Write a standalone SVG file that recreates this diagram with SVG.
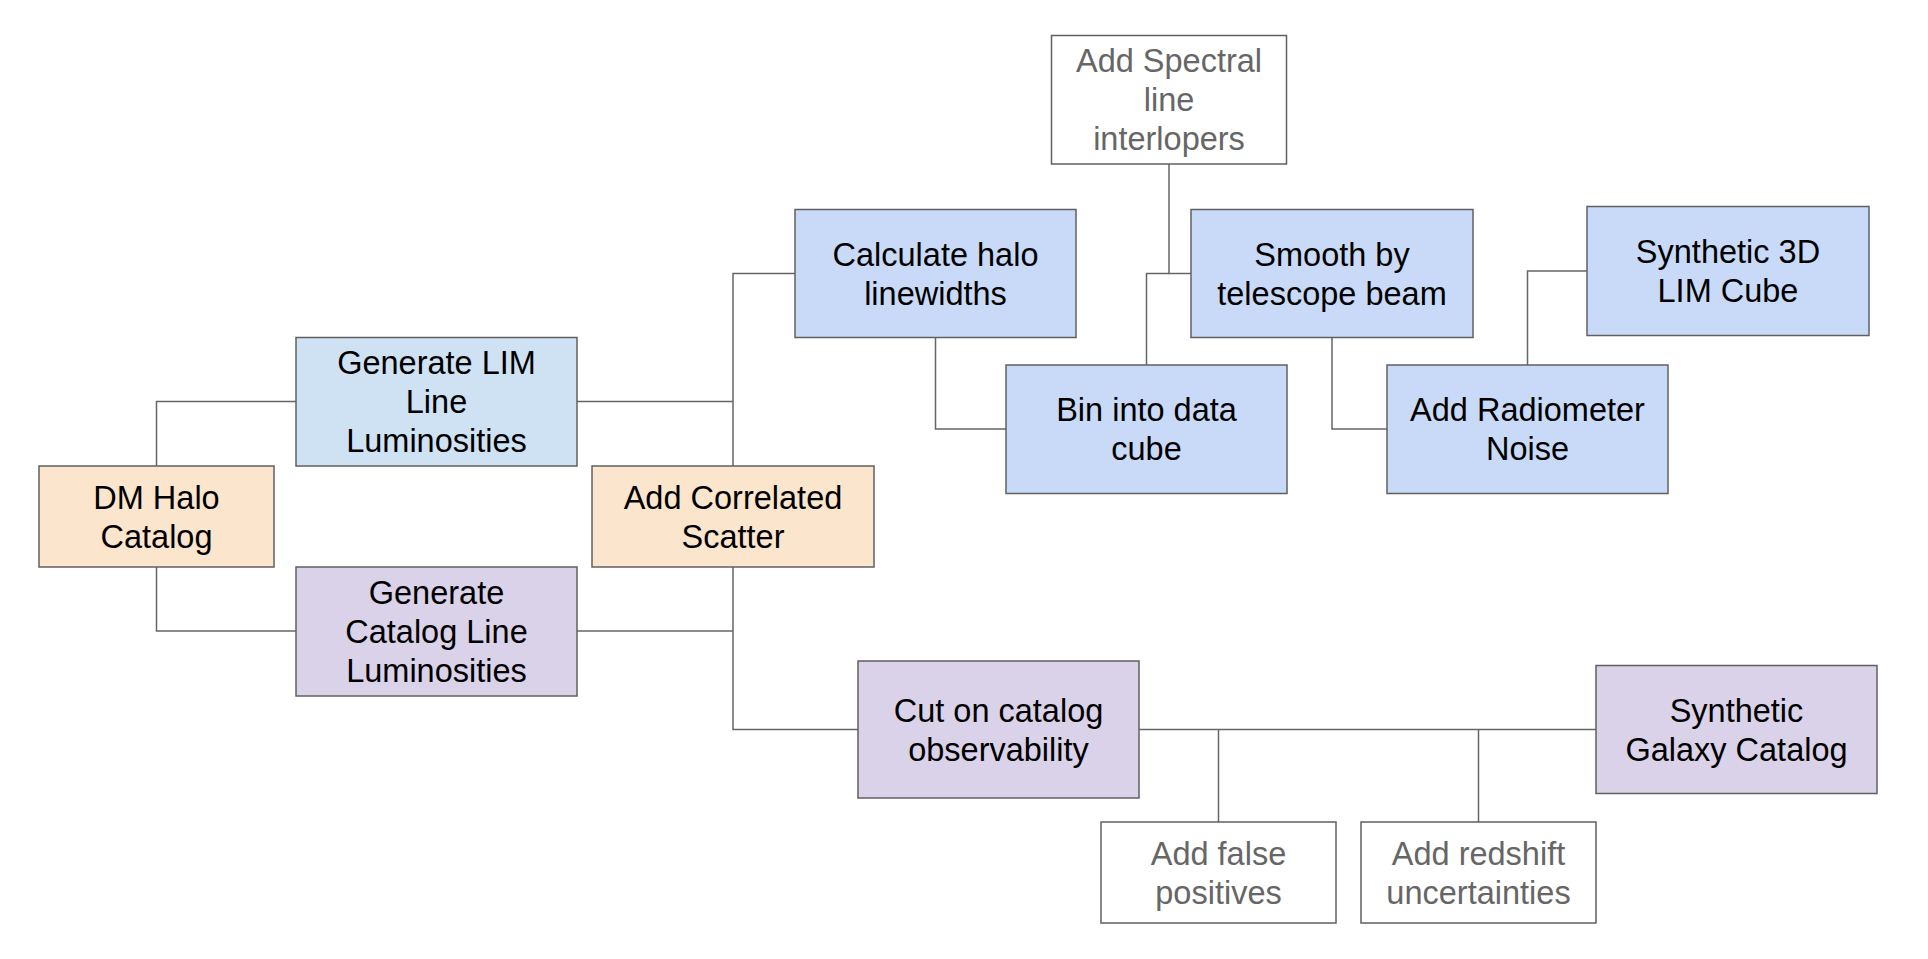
<svg xmlns="http://www.w3.org/2000/svg" width="1928" height="959" viewBox="0 0 1928 959">
<style>
.box{stroke:#606060;stroke-width:1.5}
.peach{fill:#fce5cd}
.lblue{fill:#cfe2f3}
.blue{fill:#c9daf8}
.purple{fill:#d9d2e9}
.white{fill:#ffffff}
.t{font-family:"Liberation Sans",Arial,sans-serif;font-size:32.5px;text-anchor:middle;fill:#000000}
.g{fill:#666666}
.conn path{fill:none;stroke:#666666;stroke-width:1.5}
</style>
<rect width="1928" height="959" fill="#ffffff"/>
<g id="connectors" class="conn">
<path d="M156.5,466 V401.5 H296"/>
<path d="M156.5,567 V631 H296"/>
<path d="M577,401.5 H733"/>
<path d="M733,466 V273.5 H795"/>
<path d="M577,631 H733"/>
<path d="M733,567 V729.5 H858"/>
<path d="M935.5,337.5 V429 H1006"/>
<path d="M1169,164 V273.5 H1191"/>
<path d="M1146.5,365 V273.5 H1169"/>
<path d="M1332,337.5 V429 H1387"/>
<path d="M1527.5,365 V271 H1587"/>
<path d="M1139,729.5 H1596"/>
<path d="M1218.5,729.5 V822"/>
<path d="M1478.5,729.5 V822"/>
</g>
<g id="dm-halo">
<rect class="box peach" x="39" y="466" width="235" height="101"/>
<text class="t" x="156.5" y="508.5">DM Halo<tspan x="156.5" dy="39">Catalog</tspan></text>
</g>
<g id="gen-lim">
<rect class="box lblue" x="296" y="337.5" width="281" height="128.5"/>
<text class="t" x="436.5" y="374">Generate LIM<tspan x="436.5" dy="39">Line</tspan><tspan x="436.5" dy="39">Luminosities</tspan></text>
</g>
<g id="gen-catalog">
<rect class="box purple" x="296" y="567" width="281" height="129"/>
<text class="t" x="436.5" y="603.5">Generate<tspan x="436.5" dy="39">Catalog Line</tspan><tspan x="436.5" dy="39">Luminosities</tspan></text>
</g>
<g id="corr-scatter">
<rect class="box peach" x="592" y="466" width="282" height="101"/>
<text class="t" x="733" y="508.5">Add Correlated<tspan x="733" dy="39">Scatter</tspan></text>
</g>
<g id="calc-linewidths">
<rect class="box blue" x="795" y="209.5" width="281" height="128"/>
<text class="t" x="935.5" y="265.5">Calculate halo<tspan x="935.5" dy="39">linewidths</tspan></text>
</g>
<g id="spectral-interlopers">
<rect class="box white" x="1051.5" y="35.5" width="235" height="128.5"/>
<text class="t g" x="1169" y="72">Add Spectral<tspan x="1169" dy="39">line</tspan><tspan x="1169" dy="39">interlopers</tspan></text>
</g>
<g id="bin-cube">
<rect class="box blue" x="1006" y="365" width="281" height="128.5"/>
<text class="t" x="1146.5" y="421">Bin into data<tspan x="1146.5" dy="39">cube</tspan></text>
</g>
<g id="smooth-beam">
<rect class="box blue" x="1191" y="209.5" width="282" height="128"/>
<text class="t" x="1332" y="265.5">Smooth by<tspan x="1332" dy="39">telescope beam</tspan></text>
</g>
<g id="radiometer-noise">
<rect class="box blue" x="1387" y="365" width="281" height="128.5"/>
<text class="t" x="1527.5" y="421">Add Radiometer<tspan x="1527.5" dy="39">Noise</tspan></text>
</g>
<g id="synthetic-lim">
<rect class="box blue" x="1587" y="206.5" width="282" height="129"/>
<text class="t" x="1728" y="263">Synthetic 3D<tspan x="1728" dy="39">LIM Cube</tspan></text>
</g>
<g id="cut-observability">
<rect class="box purple" x="858" y="661" width="281" height="137"/>
<text class="t" x="998.5" y="721.5">Cut on catalog<tspan x="998.5" dy="39">observability</tspan></text>
</g>
<g id="synthetic-galaxy">
<rect class="box purple" x="1596" y="665.5" width="281" height="128"/>
<text class="t" x="1736.5" y="721.5">Synthetic<tspan x="1736.5" dy="39">Galaxy Catalog</tspan></text>
</g>
<g id="false-positives">
<rect class="box white" x="1101" y="822" width="235" height="101"/>
<text class="t g" x="1218.5" y="864.5">Add false<tspan x="1218.5" dy="39">positives</tspan></text>
</g>
<g id="redshift-uncertainties">
<rect class="box white" x="1361" y="822" width="235" height="101"/>
<text class="t g" x="1478.5" y="864.5">Add redshift<tspan x="1478.5" dy="39">uncertainties</tspan></text>
</g>
</svg>
